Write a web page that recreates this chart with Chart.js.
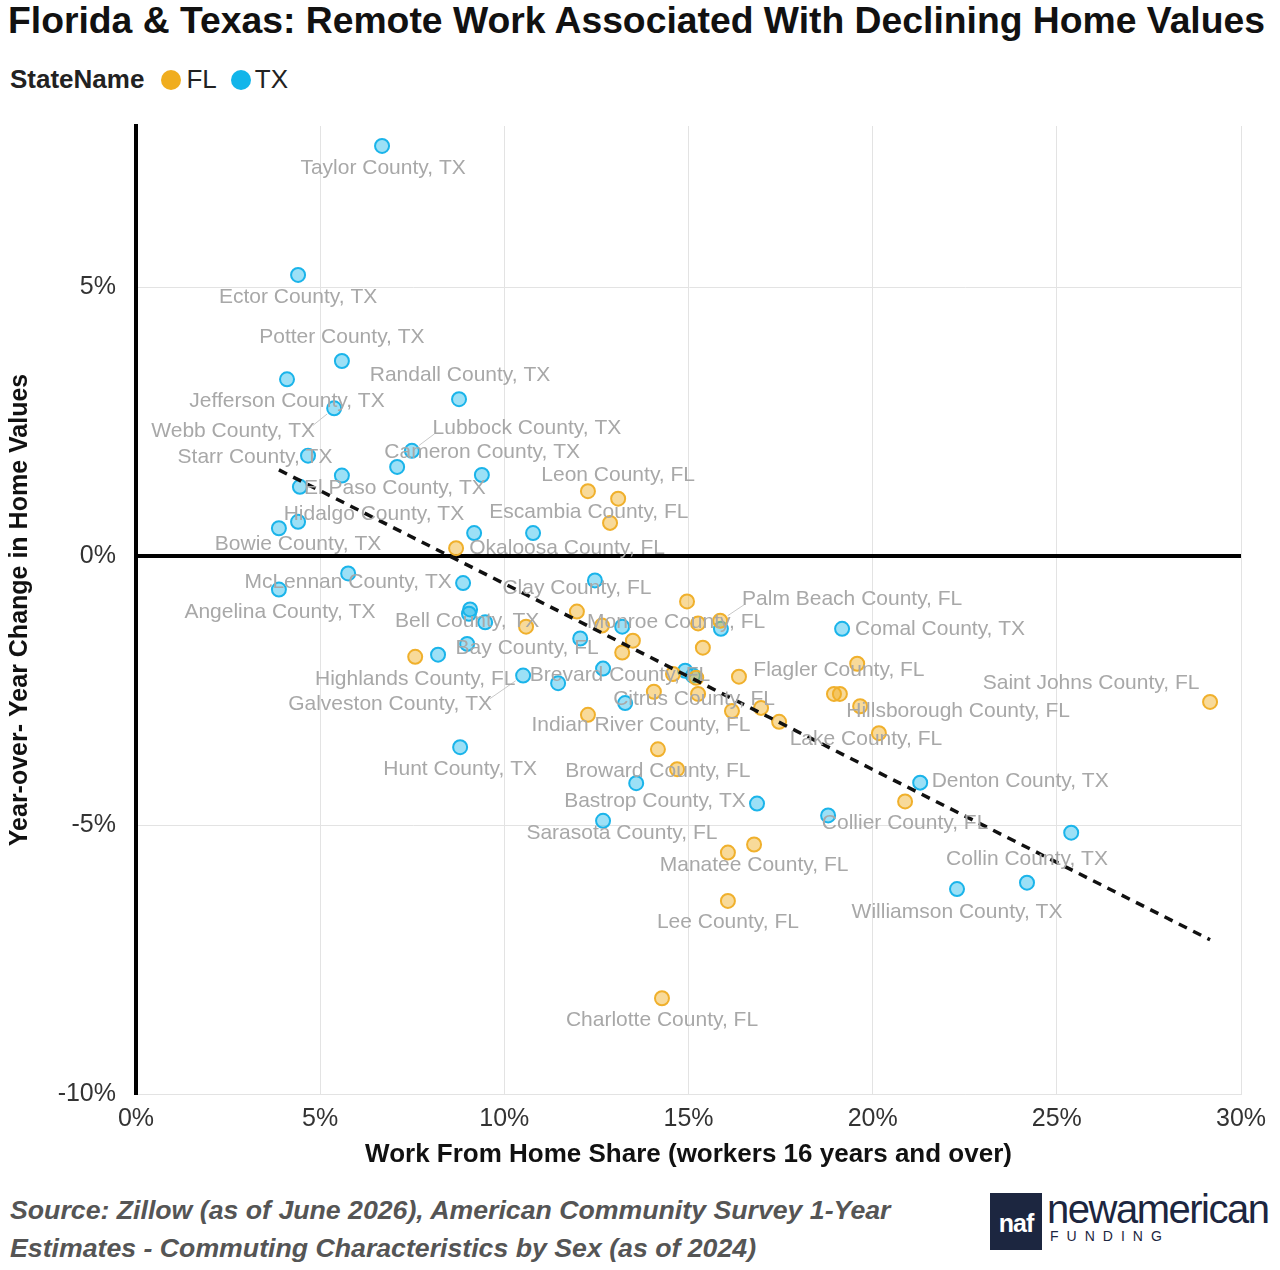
<!DOCTYPE html>
<html>
<head>
<meta charset="utf-8">
<script src="https://cdn.jsdelivr.net/npm/chart.js@4.4.1/dist/chart.umd.min.js"></script>
<style>
  body { margin: 0; width: 1280px; height: 1270px; background: #fff; position: relative; overflow: hidden;
         font-family: "Liberation Sans", Arial, sans-serif; }
  #title { position: absolute; left: 8px; top: -1px; font-size: 37.3px; font-weight: bold; color: #111; white-space: nowrap; }
  #legend { position: absolute; left: 10px; top: 64px; font-size: 26px; color: #222; white-space: nowrap; }
  #legend b { margin-right: 17px; }
  #legend .dot { display: inline-block; width: 20px; height: 20px; border-radius: 50%; vertical-align: -2px; margin-right: 5px; }
  #wrap { position: absolute; left: 0; top: 91px; width: 1280px; height: 1086px; }
  #source { position: absolute; left: 10px; top: 1191px; font-size: 26.7px; font-style: italic; font-weight: bold;
            color: #555; line-height: 38px; white-space: nowrap; }
  #logo-box { position: absolute; left: 990px; top: 1193px; width: 52px; height: 57px; background: #1c2640;
              color: #fff; font-size: 25px; font-weight: bold; text-align: center; line-height: 60px; letter-spacing: -1px; }
  #logo-name { position: absolute; left: 1047px; top: 1187px; font-size: 40px; color: #1c2640; letter-spacing: -1.5px; }
  #logo-sub { position: absolute; left: 1050px; top: 1228px; font-size: 14px; color: #1c2640; letter-spacing: 8px; }
</style>
</head>
<body>
<div id="title">Florida &amp; Texas: Remote Work Associated With Declining Home Values</div>
<div id="legend"><b>StateName</b><span class="dot" style="background:#f0ad1e"></span>FL<span class="dot" style="background:#12b5ea;margin-left:14px;margin-right:4px"></span>TX</div>
<div id="wrap"><canvas id="chart"></canvas></div>
<div id="source">Source: Zillow (as of June 2026), American Community Survey 1-Year<br>Estimates - Commuting Characteristics by Sex (as of 2024)</div>
<div id="logo-box">naf</div>
<div id="logo-name">newamerican</div>
<div id="logo-sub">FUNDING</div>

<script>
// Texas counties: work-from-home share (%) and YoY home value change (%)
const txNames = [
  "Taylor County, TX", "Ector County, TX", "Potter County, TX", "Jefferson County, TX", "Webb County, TX",
  "Randall County, TX", "Lubbock County, TX", "Cameron County, TX", "Starr County, TX", "",
  "", "El Paso County, TX", "Hidalgo County, TX", "Bowie County, TX", "",
  "", "", "Angelina County, TX", "McLennan County, TX", "",
  "", "", "Bell County, TX", "", "Galveston County, TX",
  "", "", "", "Comal County, TX", "",
  "", "", "", "", "",
  "Hunt County, TX", "", "Bastrop County, TX", "", "",
  "Denton County, TX", "", "Collin County, TX", "Williamson County, TX"
];
const txWfh = [
  6.68, 4.40, 5.59, 4.10, 5.38,
  8.77, 7.49, 7.09, 4.67, 5.59,
  9.39, 4.45, 3.88, 4.40, 9.18,
  10.78, 5.76, 3.88, 8.88, 9.07,
  9.04, 9.48, 8.99, 8.20, 10.51,
  12.46, 13.20, 15.88, 19.17, 12.06,
  12.68, 11.46, 14.91, 15.12, 13.28,
  8.80, 13.58, 16.86, 12.68, 18.79,
  21.29, 25.39, 24.19, 22.29
];
const txChange = [
  7.63, 5.23, 3.63, 3.29, 2.75,
  2.92, 1.96, 1.66, 1.87, 1.50,
  1.51, 1.29, 0.52, 0.64, 0.43,
  0.43, -0.32, -0.62, -0.50, -0.99,
  -1.07, -1.23, -1.63, -1.83, -2.22,
  -0.45, -1.31, -1.35, -1.35, -1.53,
  -2.09, -2.36, -2.13, -2.22, -2.73,
  -3.55, -4.22, -4.60, -4.92, -4.82,
  -4.21, -5.14, -6.07, -6.19
];

// Florida counties
const flNames = [
  "Leon County, FL", "Escambia County, FL", "", "Okaloosa County, FL", "",
  "Clay County, FL", "", "", "Monroe County, FL", "Palm Beach County, FL",
  "", "Bay County, FL", "", "Highlands County, FL", "Brevard County, FL",
  "", "Flagler County, FL", "", "", "",
  "", "Citrus County, FL", "", "", "",
  "Indian River County, FL", "Hillsborough County, FL", "Lake County, FL", "Saint Johns County, FL", "Collier County, FL",
  "Broward County, FL", "", "Manatee County, FL", "Sarasota County, FL", "Lee County, FL",
  "Charlotte County, FL"
];
const flWfh = [
  13.09, 12.27, 12.87, 8.69, 14.96,
  11.97, 10.59, 12.65, 15.26, 15.86,
  13.49, 13.20, 15.39, 7.58, 14.58,
  15.21, 16.37, 19.58, 18.95, 19.11,
  14.06, 15.26, 16.18, 16.97, 17.46,
  12.27, 19.66, 20.17, 29.16, 20.88,
  14.17, 14.69, 16.78, 16.07, 16.07,
  14.28
];
const flChange = [
  1.07, 1.21, 0.62, 0.15, -0.84,
  -1.03, -1.31, -1.29, -1.25, -1.20,
  -1.57, -1.79, -1.70, -1.87, -2.19,
  -2.26, -2.24, -2.00, -2.56, -2.56,
  -2.52, -2.56, -2.88, -2.82, -3.08,
  -2.95, -2.79, -3.29, -2.71, -4.56,
  -3.59, -3.96, -5.36, -5.51, -6.41,
  -8.22
];

const xTicks = [0, 5, 10, 15, 20, 25, 30];
const yTicks = [-10, -5, 0, 5];

// where each data label sits relative to its point (px), lead = draw leader line
const labelPos = {
  "Taylor County, TX": [1, 22], "Ector County, TX": [0, 22], "Potter County, TX": [0, -24],
  "Randall County, TX": [1, -24], "Jefferson County, TX": [0, 22], "Webb County, TX": [-101, 23, true],
  "Lubbock County, TX": [115, -23, true], "Starr County, TX": [-53, 2], "Cameron County, TX": [85, -15],
  "Leon County, FL": [0, -23], "Escambia County, FL": [1, 21], "El Paso County, TX": [95, 1],
  "Hidalgo County, TX": [95, -14], "Bowie County, TX": [0, 22], "Okaloosa County, FL": [111, 0],
  "McLennan County, TX": [-115, -1], "Angelina County, TX": [1, 23], "Clay County, FL": [0, -23],
  "Palm Beach County, FL": [132, -22, true], "Bell County, TX": [0, -23], "Monroe County, FL": [-22, -1],
  "Comal County, TX": [98, 0], "Bay County, FL": [-95, -4], "Flagler County, FL": [100, -6],
  "Highlands County, FL": [0, 22], "Brevard County, FL": [-53, 1], "Saint Johns County, FL": [-119, -19],
  "Citrus County, FL": [-4, 5], "Galveston County, TX": [-133, 29, true], "Hillsborough County, FL": [98, 5],
  "Indian River County, FL": [53, 10], "Lake County, FL": [-13, 6], "Hunt County, TX": [0, 22],
  "Broward County, FL": [0, 22], "Denton County, TX": [100, -1], "Bastrop County, TX": [-102, -2],
  "Collier County, FL": [0, 22], "Sarasota County, FL": [-106, -19], "Collin County, TX": [0, -23],
  "Manatee County, FL": [0, 21], "Williamson County, TX": [0, 23], "Lee County, FL": [0, 21],
  "Charlotte County, FL": [0, 22]
};

const toPoints = (xs, ys) => xs.map((x, i) => ({ x: x, y: ys[i] }));

// least squares trend over all counties
const allX = txWfh.concat(flWfh);
const allY = txChange.concat(flChange);
const n = allX.length;
const mx = allX.reduce((a, b) => a + b, 0) / n;
const my = allY.reduce((a, b) => a + b, 0) / n;
let sxy = 0, sxx = 0;
allX.forEach((x, i) => { sxy += (x - mx) * (allY[i] - my); sxx += (x - mx) * (x - mx); });
const slope = sxy / sxx;
const icpt = my - slope * mx;
const xMin = Math.min(...allX), xMax = Math.max(...allX);
const trend = [{ x: xMin, y: icpt + slope * xMin }, { x: xMax, y: icpt + slope * xMax }];

const pointLabels = {
  id: "pointLabels",
  afterDatasetsDraw(chart) {
    const ctx = chart.ctx;
    ctx.save();
    ctx.font = '21px "Liberation Sans", Arial, sans-serif';
    ctx.textAlign = "center";
    ctx.textBaseline = "middle";
    [[0, txNames], [1, flNames]].forEach(([di, names]) => {
      chart.getDatasetMeta(di).data.forEach((el, i) => {
        const p = labelPos[names[i]];
        if (!p) return;
        const lx = el.x + p[0], ly = el.y + p[1];
        if (p[2]) {
          const w = ctx.measureText(names[i]).width;
          const sx = lx - Math.sign(p[0]) * (w / 2 - 2);
          const sy = ly - Math.sign(p[1]) * 6;
          const ang = Math.atan2(sy - el.y, sx - el.x);
          ctx.strokeStyle = "#c8c8c8";
          ctx.lineWidth = 1;
          ctx.beginPath();
          ctx.moveTo(sx, sy);
          ctx.lineTo(el.x + Math.cos(ang) * 9, el.y + Math.sin(ang) * 9);
          ctx.stroke();
        }
        ctx.fillStyle = "#a8a8a8";
        ctx.fillText(names[i], lx, ly);
      });
    });
    ctx.restore();
  }
};

new Chart(document.getElementById("chart"), {
  type: "scatter",
  data: {
    datasets: [
      {
        label: "TX",
        data: toPoints(txWfh, txChange),
        backgroundColor: "rgba(18,181,234,0.42)",
        borderColor: "#1ab4ea",
        borderWidth: 2,
        pointRadius: 7,
        order: 2
      },
      {
        label: "FL",
        data: toPoints(flWfh, flChange),
        backgroundColor: "rgba(240,173,30,0.45)",
        borderColor: "#f0b02c",
        borderWidth: 2,
        pointRadius: 7,
        order: 1
      },
      {
        type: "line",
        label: "Trend",
        data: trend,
        borderColor: "#111",
        borderWidth: 3.5,
        borderDash: [9, 7],
        pointRadius: 0,
        fill: false,
        order: 0
      }
    ]
  },
  options: {
    responsive: true,
    maintainAspectRatio: false,
    animation: false,
    layout: { padding: { top: 14, right: 39, left: 0, bottom: 0 } },
    plugins: { legend: { display: false }, tooltip: { enabled: false } },
    scales: {
      x: {
        type: "linear",
        min: 0,
        max: 30,
        afterFit: (s) => { s.height = 83; },
        afterBuildTicks: (s) => { s.ticks = xTicks.map((v) => ({ value: v })); },
        ticks: { callback: (v) => v + "%", color: "#333", padding: 10,
                 font: { size: 25, family: '"Liberation Sans", Arial, sans-serif' } },
        grid: { drawTicks: false, color: (c) => (c.tick && c.tick.value === 0 ? "rgba(0,0,0,0)" : "#e3e3e3"), lineWidth: 1 },
        border: { display: true, color: "#e3e3e3", width: 1 },
        title: { display: true, text: "Work From Home Share (workers 16 years and over)", color: "#111",
                 padding: { top: 0, bottom: 7 },
                 font: { size: 26, weight: "bold", family: '"Liberation Sans", Arial, sans-serif' } }
      },
      y: {
        min: -10,
        max: 8,
        afterFit: (s) => { s.width = 136; },
        afterBuildTicks: (s) => { s.ticks = yTicks.map((v) => ({ value: v })); },
        ticks: { callback: (v) => v + "%", color: "#333", padding: 20,
                 font: { size: 25, family: '"Liberation Sans", Arial, sans-serif' } },
        grid: { drawTicks: false,
                color: (c) => (c.tick && c.tick.value === 0 ? "#000" : "#e3e3e3"),
                lineWidth: (c) => (c.tick && c.tick.value === 0 ? 4 : 1) },
        border: { display: true, color: "#000", width: 4 },
        title: { display: true, text: "Year-over- Year Change in Home Values", color: "#111",
                 padding: { top: 5, bottom: 0 },
                 font: { size: 25, weight: "bold", family: '"Liberation Sans", Arial, sans-serif' } }
      }
    }
  },
  plugins: [pointLabels]
});
</script>
</body>
</html>
